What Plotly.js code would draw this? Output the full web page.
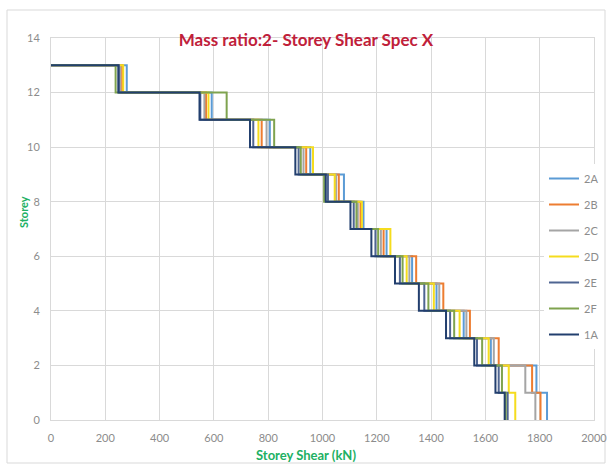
<!DOCTYPE html>
<html>
<head>
<meta charset="utf-8">
<script src="https://cdn.plot.ly/plotly-3.0.1.min.js"></script>
<style>
html,body{margin:0;padding:0;background:#fff;}
#chart{width:607px;height:465px;}
</style>
</head>
<body>
<div id="chart"></div>
<script>
// Storey levels (top to bottom); shear values per series start at 0 then storeys 13..1
const storeys = [13, 12, 11, 10, 9, 8, 7, 6, 5, 4, 3, 2, 1, 0];
const seriesNames = ["2A", "2B", "2C", "2D", "2E", "2F", "1A"];
const shear2A = [0, 279, 592, 806, 955, 1079, 1151, 1236, 1330, 1420, 1520, 1620, 1788, 1827];
const shear2B = [0, 262, 571, 776, 940, 1060, 1140, 1225, 1345, 1445, 1543, 1649, 1772, 1803];
const shear2C = [0, 255, 565, 794, 930, 1050, 1130, 1215, 1320, 1430, 1530, 1631, 1747, 1784];
const shear2D = [0, 266, 580, 764, 965, 1045, 1145, 1250, 1310, 1410, 1505, 1612, 1686, 1710];
const shear2E = [0, 250, 550, 745, 912, 1020, 1115, 1195, 1285, 1375, 1470, 1569, 1649, 1682];
const shear2F = [0, 238, 647, 822, 920, 1006, 1125, 1205, 1295, 1390, 1485, 1588, 1661, 1675];
const shear1A = [0, 248, 547, 733, 900, 1012, 1103, 1180, 1267, 1355, 1455, 1559, 1637, 1671];
const seriesValues = [shear2A, shear2B, shear2C, shear2D, shear2E, shear2F, shear1A];
const xTicks = [0, 200, 400, 600, 800, 1000, 1200, 1400, 1600, 1800, 2000];
const yTicks = [0, 2, 4, 6, 8, 10, 12, 14];

const colors = ["#5B9BD5", "#ED7D31", "#A5A5A5", "#F5DC1E", "#4F6592", "#7FA34F", "#223F6E"];

const traces = seriesNames.map((name, i) => ({
  type: "scatter",
  mode: "lines",
  name: name,
  legendgroup: name,
  x: seriesValues[i],
  y: storeys,
  line: {color: colors[i], width: 2, shape: "hv"},
  hoverinfo: "x+y+name"
}));

// plot area in pixels
const L = 51, R = 594, T = 38, B = 420;
const W = R - L, H = B - T;
const px = v => (v - L) / W;
const py = v => (B - v) / H;

const layout = {
  width: 607, height: 465,
  margin: {l: L, r: 607 - R, t: T, b: 465 - B, pad: 0, autoexpand: false},
  paper_bgcolor: "#ffffff",
  plot_bgcolor: "#ffffff",
  font: {family: "Lato, 'Open Sans', sans-serif", color: "#7f7f7f", size: 11},
  showlegend: true,
  title: {
    text: "Mass ratio:2- Storey Shear Spec X",
    font: {family: "Lato, 'Open Sans', sans-serif", size: 17, color: "#C0203A", weight: "bold"},
    x: 306 / 607, xref: "container", xanchor: "center",
    y: 1 - 40 / 465, yref: "container", yanchor: "middle"
  },
  xaxis: {
    range: [0, 2000],
    tickvals: xTicks,
    ticktext: xTicks.map(String),
    showgrid: true, gridcolor: "#d9d9d9", gridwidth: 1,
    zeroline: false,
    showline: true, linecolor: "#d9d9d9", linewidth: 1, mirror: true,
    ticks: "", ticklabelstandoff: 8, ticklabeloverflow: "allow",
    tickfont: {size: 11, color: "#8c8c8c"},
    fixedrange: true, automargin: false
  },
  yaxis: {
    range: [0, 14],
    tickvals: yTicks,
    ticktext: yTicks.map(String),
    showgrid: true, gridcolor: "#d9d9d9", gridwidth: 1,
    zeroline: false,
    showline: true, linecolor: "#d9d9d9", linewidth: 1, mirror: true,
    ticks: "", ticklabelstandoff: 8, ticklabeloverflow: "allow",
    tickfont: {size: 11, color: "#8c8c8c"},
    fixedrange: true, automargin: false
  },
  legend: {
    x: px(544), y: py(164), xanchor: "left", yanchor: "top",
    bgcolor: "#ffffff",
    traceorder: "grouped",
    tracegroupgap: 7,
    itemwidth: 30,
    font: {size: 11, color: "#8c8c8c"}
  },
  annotations: [
    {
      text: "Storey Shear (kN)", xref: "paper", yref: "paper",
      x: px(306), y: py(455), xanchor: "center", yanchor: "middle",
      showarrow: false,
      font: {family: "Lato, 'Open Sans', sans-serif", size: 13, color: "#21B063", weight: "bold"}
    },
    {
      text: "Storey", xref: "paper", yref: "paper",
      x: px(23), y: py(212), xanchor: "center", yanchor: "middle",
      textangle: -90, showarrow: false,
      font: {family: "Lato, 'Open Sans', sans-serif", size: 11, color: "#21B063", weight: "bold"}
    }
  ],
  shapes: [
    {
      type: "rect", xref: "paper", yref: "paper", layer: "below",
      x0: px(7), x1: px(605), y0: py(463), y1: py(10),
      line: {color: "#d9d9d9", width: 1}, fillcolor: "rgba(0,0,0,0)"
    }
  ]
};

Plotly.newPlot("chart", traces, layout, {displayModeBar: false, staticPlot: true});
</script>
</body>
</html>
